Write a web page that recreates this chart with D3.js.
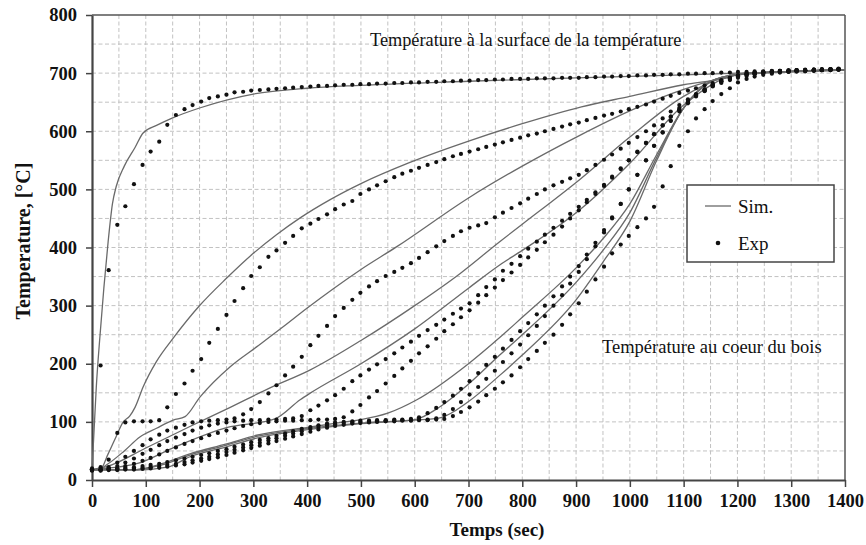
<!DOCTYPE html>
<html><head><meta charset="utf-8">
<script src="https://cdn.jsdelivr.net/npm/d3@7/dist/d3.min.js"></script>
<style>body{margin:0;background:#fff} svg{display:block}</style>
</head><body>
<svg id="c" width="866" height="545"></svg>
<script>
// ---------- DATA ----------
const xTicks = [0,100,200,300,400,500,600,700,800,900,1000,1100,1200,1300,1400];
const yTicks = [0,100,200,300,400,500,600,700,800];
const legendLabels = ["Sim.", "Exp"];
const annotations = ["Température à la surface de la température", "Température au coeur du bois"];
const xTitle = "Temps (sec)";
const yTitle = "Temperature, [°C]";

// Simulated curves [time (s), temperature (°C)]
const sim0 = [[0,20],[3,70],[8,160],[15,250],[22,330],[30,410],[38,475],[45,505],[60,540],[80,572],[95,597],[120,610],[150,623],[200,640],[300,664],[400,674],[500,679],[700,686],[900,692],[1100,697],[1200,700],[1300,702],[1400,705]];
const sim1 = [[0,18],[15,18],[30,45],[45,75],[58,100],[70,110],[80,125],[95,160],[120,204],[151,244],[201,301],[250,347],[300,390],[343,422],[387,451],[442,482],[500,510],[590,546],[703,584],[800,613],[910,642],[1000,660],[1100,680],[1180,692],[1200,697],[1300,703],[1400,706]];
const sim2 = [[0,18],[10,18],[30,28],[60,50],[89,74],[120,89],[151,103],[173,109],[201,143],[257,195],[306,229],[356,264],[399,295],[450,330],[498,361],[566,401],[703,487],[800,540],[907,593],[1000,635],[1100,672],[1200,697],[1300,702],[1400,705]];
const sim3 = [[0,18],[27,23],[100,55],[182,92],[257,125],[330,158],[405,189],[500,240],[600,300],[684,355],[758,410],[800,440],[907,517],[1000,590],[1100,660],[1200,698],[1300,703],[1400,706]];
const sim4 = [[0,18],[83,28],[150,55],[250,90],[340,105],[387,138],[405,149],[500,200],[600,260],[700,330],[758,370],[800,395],[907,465],[1000,545],[1100,645],[1200,697],[1300,703],[1400,706]];
const sim5 = [[0,18],[83,18],[130,28],[182,45],[250,62],[306,77],[405,91],[470,100],[500,104],[550,115],[604,138],[700,200],[758,245],[800,280],[900,365],[950,415],[1000,475],[1050,560],[1100,640],[1150,685],[1200,698],[1300,703],[1400,706]];
const sim6 = [[0,18],[83,18],[130,26],[182,43],[250,60],[306,75],[405,89],[500,98],[600,104],[647,126],[700,165],[758,215],[800,250],[900,340],[950,395],[1000,460],[1050,555],[1100,640],[1150,686],[1200,698],[1300,703],[1400,706]];
const sim7 = [[0,17],[83,17],[140,22],[182,40],[250,57],[306,72],[405,87],[500,97],[600,103],[647,107],[700,135],[758,180],[800,215],[900,310],[950,375],[1000,445],[1050,550],[1100,640],[1150,686],[1200,698],[1300,703],[1400,706]];

// Experimental sampling times (s)
const expTime = [0,16,31,47,62,78,94,109,125,140,
156,172,187,203,218,234,250,265,281,296,
312,328,343,359,374,390,406,421,437,452,
468,484,499,515,530,546,562,577,593,608,
624,640,655,671,686,702,718,733,749,764,
780,796,811,827,842,858,874,889,905,920,
936,952,967,983,998,1014,1030,1045,1061,1076,
1092,1108,1123,1139,1154,1170,1186,1201,1217,1232,
1248,1264,1279,1295,1310,1326,1342,1357,1373,1388];

// Experimental temperatures (°C), one value per sampling time
const exp0 = [20,197,361,439,471,509,542,565,582,611,
628,638,645,651,657,660,663,667,668,670,
671,672,673,674,675,676,677,678,678,679,
680,680,681,681,682,682,683,683,684,684,
685,685,686,686,687,687,688,688,689,689,
690,690,690,691,691,691,692,692,692,693,
693,694,694,695,695,696,696,697,697,698,
698,699,699,700,700,701,701,702,702,703,
703,704,704,705,705,706,706,707,707,708];
const exp1 = [18,22,35,81,99,101,101,101,103,125,
148,166,188,208,236,260,284,308,330,351,
366,384,395,408,420,433,441,449,457,466,
474,480,492,500,507,514,521,527,532,537,
542,547,552,557,561,565,569,573,577,581,
585,589,593,596,600,604,608,612,615,619,
623,627,630,634,638,642,646,651,656,661,
666,670,674,679,683,688,692,696,699,701,
702,703,704,704,705,705,706,706,707,707];
const exp2 = [18,18,22,30,40,50,60,70,78,85,
90,95,99,101,102,103,104,106,113,122,
134,149,163,180,195,212,232,248,265,282,
296,310,322,333,342,351,358,365,373,382,
392,402,411,420,428,434,438,442,452,460,
468,476,484,492,500,507,513,519,525,533,
542,551,560,570,580,590,600,610,622,634,
645,655,664,672,680,687,692,696,699,701,
702,703,704,704,705,705,706,706,707,707];
const exp3 = [18,18,20,24,30,37,45,52,60,67,
73,79,85,90,94,97,99,101,102,103,
103,104,104,105,106,110,120,128,137,146,
157,170,180,190,199,208,218,228,238,248,
258,267,276,286,295,304,318,332,345,360,
372,385,398,410,422,434,446,458,470,482,
495,508,522,536,550,564,580,595,610,625,
640,652,663,672,680,686,691,695,698,700,
701,702,703,704,704,705,705,706,706,707];
const exp4 = [17,17,18,20,24,28,33,38,44,50,
56,62,67,72,77,81,85,89,93,96,
98,100,101,102,102,103,103,104,104,105,
108,118,129,142,153,166,179,192,205,218,
230,243,256,268,280,292,305,318,331,344,
357,370,383,396,409,422,436,450,464,478,
492,506,520,535,550,565,580,595,610,625,
638,650,661,670,678,685,690,694,697,699,
701,702,703,703,704,705,705,706,706,707];
const exp5 = [18,18,19,20,21,22,24,26,28,31,
34,37,40,43,46,50,53,57,61,65,
69,72,76,80,84,88,91,94,97,99,
100,101,102,102,103,103,104,104,105,108,
115,124,134,145,157,170,184,198,212,226,
241,256,270,285,300,316,333,350,368,388,
408,430,452,475,500,525,550,575,598,618,
636,650,662,671,679,685,690,694,697,699,
701,702,703,703,704,704,705,705,706,706];
const exp6 = [17,17,18,18,19,20,21,22,24,26,
28,31,34,37,40,44,48,52,56,60,
64,68,72,76,80,84,88,91,94,96,
98,99,100,101,101,102,102,103,103,104,
104,106,112,122,134,147,160,174,188,203,
218,233,249,265,282,300,318,338,358,380,
402,426,450,475,500,525,550,575,598,618,
634,648,660,669,677,683,688,692,695,698,
700,701,702,703,703,704,704,705,705,706];
const exp7 = [16,16,17,17,18,18,19,20,21,23,
25,27,30,33,36,39,43,47,51,55,
59,63,67,71,75,79,83,87,90,93,
95,97,98,99,100,101,101,102,102,103,
103,104,105,110,117,125,135,146,157,168,
180,194,208,222,236,250,267,285,304,324,
345,367,390,405,420,435,450,470,505,540,
575,600,622,638,652,664,674,684,690,694,
697,699,701,702,703,703,704,705,705,706];

const simSeries = [sim0,sim1,sim2,sim3,sim4,sim5,sim6,sim7];
const expSeries = [exp0,exp1,exp2,exp3,exp4,exp5,exp6,exp7];

// ---------- CHART ----------
const FONT = '"Liberation Serif", "Times New Roman", serif';
const svg = d3.select("#c");
const L = 92, R = 845, T = 15, B = 480;
const x = d3.scaleLinear().domain([0,1400]).range([L,R]);
const y = d3.scaleLinear().domain([0,800]).range([B,T]);

svg.append("rect").attr("width",866).attr("height",545).attr("fill","#fff");

// grid every 50
const gx = d3.range(50,1400,50), gy = d3.range(50,800,50);
const grid = svg.append("g").attr("stroke","#c2c2c2").attr("stroke-width",1).attr("stroke-dasharray","4,2.5");
grid.selectAll(".vx").data(gx).join("line").attr("x1",d=>x(d)).attr("x2",d=>x(d)).attr("y1",T).attr("y2",B);
grid.selectAll(".hy").data(gy).join("line").attr("y1",d=>y(d)).attr("y2",d=>y(d)).attr("x1",L).attr("x2",R);

// frame top/right
svg.append("line").attr("x1",L).attr("x2",R).attr("y1",T).attr("y2",T).attr("stroke","#555").attr("stroke-width",1.5);
svg.append("line").attr("x1",R).attr("x2",R).attr("y1",T).attr("y2",B).attr("stroke","#555").attr("stroke-width",1.5);

// axes
const xAxis = svg.append("g").attr("transform",`translate(0,${B})`)
  .call(d3.axisBottom(x).tickValues(xTicks).tickSize(7).tickSizeOuter(0).tickPadding(7).tickFormat(d3.format("d")));
const yAxis = svg.append("g").attr("transform",`translate(${L},0)`)
  .call(d3.axisLeft(y).tickValues(yTicks).tickSize(6).tickSizeOuter(0).tickPadding(9).tickFormat(d3.format("d")));
[xAxis,yAxis].forEach(a=>{
  a.select(".domain").attr("stroke","#444").attr("stroke-width",2.2);
  a.selectAll(".tick line").attr("stroke","#444").attr("stroke-width",1.5);
  a.selectAll(".tick text").style("font-family",FONT).attr("font-weight","bold").attr("font-size",18.5).attr("fill","#111");
});

// sim lines
const line = d3.line().x(d=>x(d[0])).y(d=>y(d[1])).curve(d3.curveMonotoneX);
svg.append("g").selectAll("path").data(simSeries).join("path")
  .attr("d",line).attr("fill","none").attr("stroke","#6a6a6a").attr("stroke-width",1.3);

// exp dots
const dots = svg.append("g").attr("fill","#111");
expSeries.forEach(s=>{
  dots.selectAll(null).data(s.map((v,i)=>[expTime[i],v])).join("circle")
    .attr("cx",d=>x(d[0])).attr("cy",d=>y(d[1])).attr("r",2.1);
});

// annotations
svg.append("text").attr("x",370).attr("y",46).style("font-family",FONT).attr("font-size",18.3).attr("fill","#111").text(annotations[0]);
svg.append("text").attr("x",602).attr("y",353).style("font-family",FONT).attr("font-size",18.5).attr("fill","#111").text(annotations[1]);

// legend
const lg = svg.append("g");
lg.append("rect").attr("x",687).attr("y",185).attr("width",147).attr("height",77).attr("fill","#fff").attr("stroke","#444").attr("stroke-width",1.5);
lg.append("line").attr("x1",705).attr("x2",731).attr("y1",206).attr("y2",206).attr("stroke","#6a6a6a").attr("stroke-width",1.3);
lg.append("text").attr("x",738).attr("y",213).style("font-family",FONT).attr("font-size",19).attr("fill","#111").text(legendLabels[0]);
lg.append("circle").attr("cx",718).attr("cy",243).attr("r",2.3).attr("fill","#111");
lg.append("text").attr("x",738).attr("y",250).style("font-family",FONT).attr("font-size",19).attr("fill","#111").text(legendLabels[1]);

// titles
svg.append("text").attr("x",497).attr("y",536).attr("text-anchor","middle").style("font-family",FONT).attr("font-weight","bold").attr("font-size",19).attr("fill","#111").text(xTitle);
svg.append("text").attr("transform","translate(30,241) rotate(-90)").attr("text-anchor","middle").style("font-family",FONT).attr("font-weight","bold").attr("font-size",20).attr("fill","#111").text(yTitle);
</script>
</body></html>
